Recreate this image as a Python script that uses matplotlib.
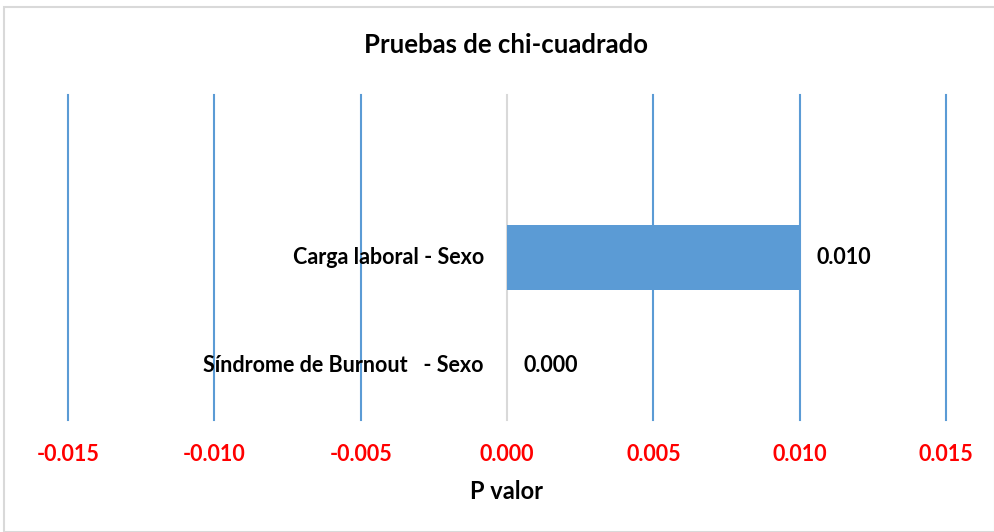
import matplotlib
matplotlib.use("Agg")
import matplotlib.pyplot as plt
from matplotlib.patches import Rectangle

plt.rcParams['font.family'] = ['Lato', 'DejaVu Sans']

# Data
categories = ["Síndrome de Burnout   - Sexo", "Carga laboral - Sexo"]
p_values = [0.000, 0.010]
x_ticks = [-0.015, -0.010, -0.005, 0.000, 0.005, 0.010, 0.015]

bar_color = '#5b9bd5'
grid_color = '#5b9bd5'
zero_color = '#d9d9d9'

fig = plt.figure(figsize=(9.95, 5.32), dpi=100)
ax = fig.add_axes([68 / 995, 1 - 420 / 532, (946 - 68) / 995, (420 - 95) / 532])

# Grid lines (zero line in grey)
for t in x_ticks:
    ax.axvline(t, color=zero_color if t == 0 else grid_color,
               linewidth=1.5, zorder=1, clip_on=False)

ypos = list(range(len(categories)))
ax.barh(ypos, p_values, height=0.6, color=bar_color, zorder=2)

# Category labels next to the zero line, value labels after the bar
for y, cat, v in zip(ypos, categories, p_values):
    ax.annotate(cat, xy=(0, y), xytext=(-23, 0), textcoords='offset pixels',
                ha='right', va='center', fontsize=15.5, fontweight='bold',
                color='black')
    ax.annotate(f"{v:.3f}", xy=(v, y), xytext=(17, 0), textcoords='offset pixels',
                ha='left', va='center', fontsize=15.5, fontweight='bold',
                color='black')

ax.set_xlim(x_ticks[0], x_ticks[-1])
ax.set_ylim(-0.5, 2.5)
ax.set_xticks(x_ticks)
ax.set_xticklabels([f"{t:.3f}" for t in x_ticks], color='red',
                   fontsize=15.5, fontweight='bold')
ax.tick_params(axis='x', length=0, pad=17)
ax.set_yticks([])
for s in ax.spines.values():
    s.set_visible(False)

ax.set_xlabel("P valor", fontsize=17, fontweight='bold', labelpad=11)
fig.text(506 / 995, 1 - 45 / 532, "Pruebas de chi-cuadrado", ha='center',
         va='center', fontsize=18.5, fontweight='bold')

# Light border around the chart area
fig.patches.append(Rectangle((4 / 995, 0), 1 - 4 / 995, 1 - 7 / 532,
                             transform=fig.transFigure, fill=False,
                             edgecolor='#d9d9d9', linewidth=1.5))

fig.savefig("out.png", dpi=100)
